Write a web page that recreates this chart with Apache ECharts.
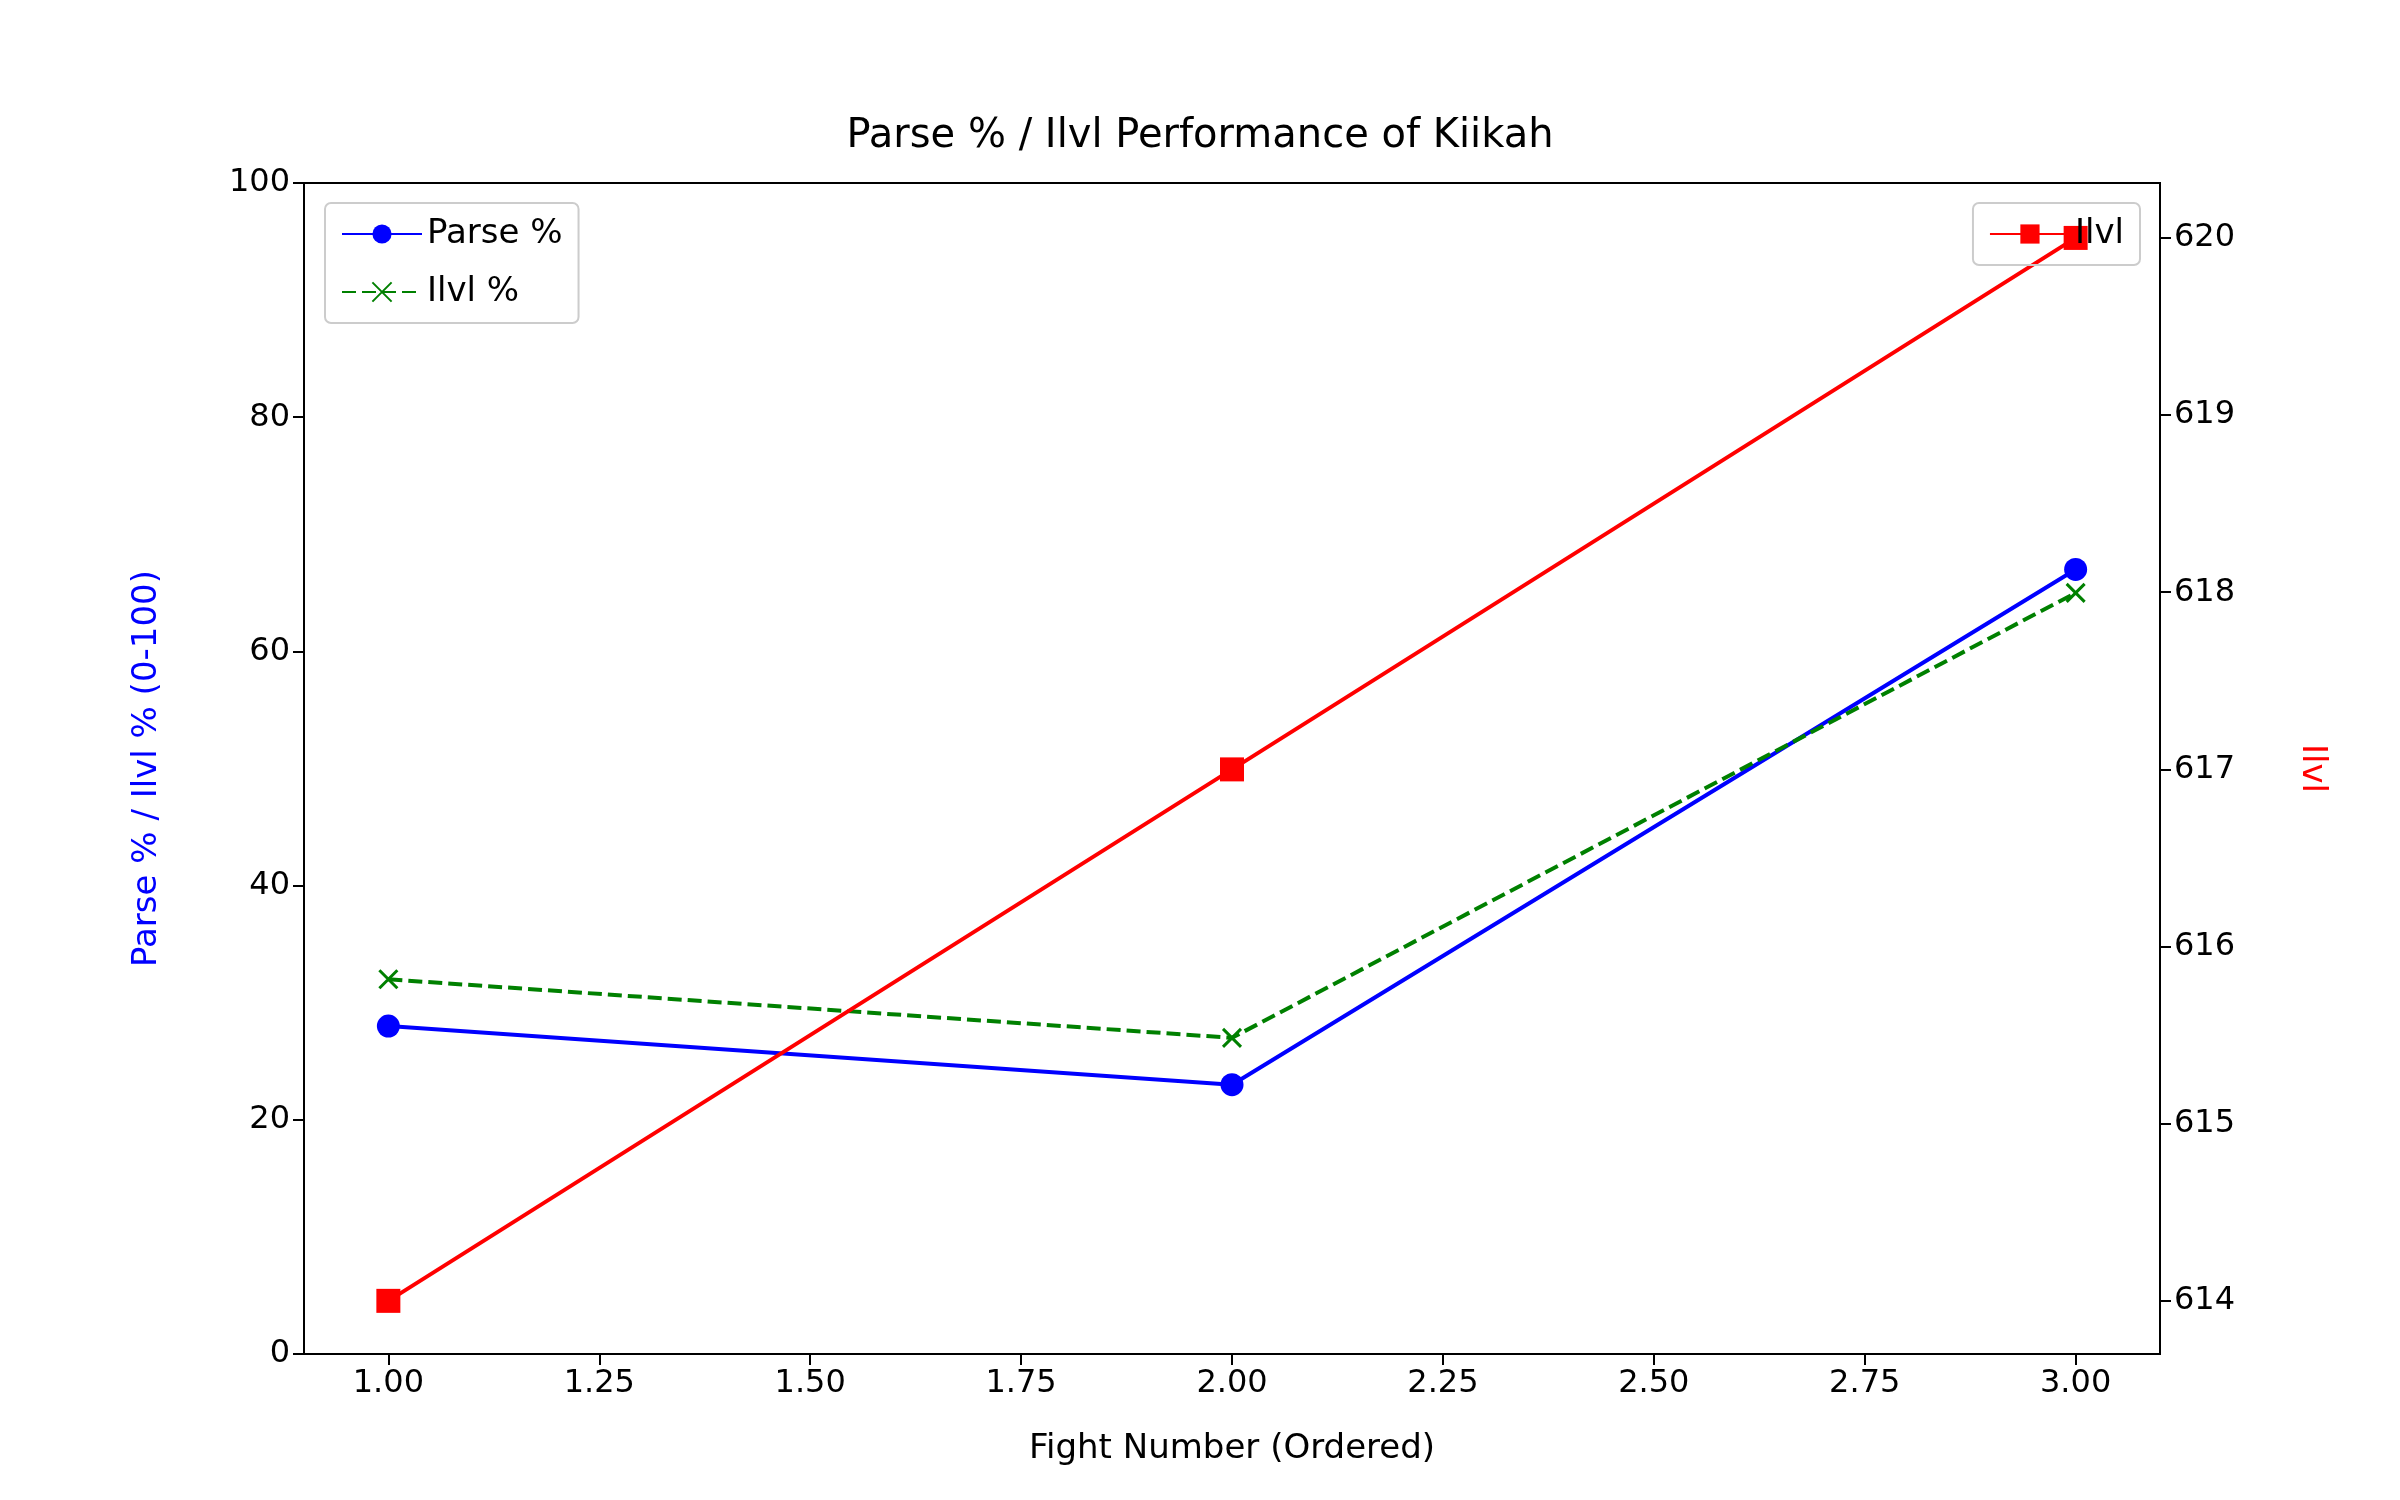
<!DOCTYPE html>
<html><head><meta charset="utf-8">
<script src="https://cdn.jsdelivr.net/npm/echarts@6/dist/echarts.min.js"></script>
<style>html,body{margin:0;padding:0;background:#fff}#c{width:2400px;height:1500px}</style>
</head><body><div id="c"></div>
<script>
var fights = [1, 2, 3];
var parsePct = [28, 23, 67];
var ilvlPct = [32, 27, 65];
var ilvl = [614, 617, 620];
var xTicks = [1, 1.25, 1.5, 1.75, 2, 2.25, 2.5, 2.75, 3];
var rightTicks = [614, 615, 616, 617, 618, 619, 620];

var F = 'DejaVu Sans';
var chart = echarts.init(document.getElementById('c'));
function pts(ys){ return fights.map(function(x,i){ return [x, ys[i]]; }); }
var lab = {color:'#000', fontFamily:F, fontSize:32, margin:14};
var tick = {show:true, length:11, inside:false, lineStyle:{color:'#000', width:2}};
chart.setOption({
  animation:false,
  title:{text:'Parse % / Ilvl Performance of Kiikah', left:'center', top:112,
    textStyle:{fontFamily:F, fontSize:40, fontWeight:'normal', color:'#000'}},
  grid:{left:304, right:240, top:183, bottom:146, show:true, borderColor:'#000', borderWidth:2},
  legend:[
    {data:['Parse %','Ilvl %'], orient:'vertical', left:325, top:203, itemWidth:80, itemHeight:24, itemGap:24,
      padding:[14,16], borderColor:'#ccc', borderWidth:2, borderRadius:6,
      textStyle:{fontFamily:F, fontSize:34, color:'#000'}},
    {data:['Ilvl'], orient:'vertical', right:260, top:203, itemWidth:80, itemHeight:24,
      padding:[14,16], borderColor:'#ccc', borderWidth:2, borderRadius:6,
      textStyle:{fontFamily:F, fontSize:34, color:'#000'}}
  ],
  xAxis:{type:'value', min:0.9, max:3.1, name:'Fight Number (Ordered)', nameLocation:'middle', nameGap:78,
    nameTextStyle:{fontFamily:F, fontSize:34, color:'#000'},
    axisLine:{show:true, lineStyle:{color:'#000', width:2}},
    axisTick:Object.assign({customValues:xTicks}, tick),
    axisLabel:Object.assign({customValues:xTicks, formatter:function(v){return v.toFixed(2);}}, lab),
    splitLine:{show:false}},
  yAxis:[
    {type:'value', min:0, max:100, interval:20, position:'left', name:'Parse % / Ilvl % (0-100)',
      nameLocation:'middle', nameGap:140, nameTextStyle:{fontFamily:F, fontSize:34, color:'#0000ff'},
      axisLine:{show:true, lineStyle:{color:'#000', width:2}}, axisTick:tick, axisLabel:lab, splitLine:{show:false}},
    {type:'value', min:613.7, max:620.31, position:'right', name:'Ilvl',
      nameLocation:'middle', nameGap:135, nameRotate:-90, nameTextStyle:{fontFamily:F, fontSize:34, color:'#ff0000'},
      axisLine:{show:true, lineStyle:{color:'#000', width:2}},
      axisTick:Object.assign({customValues:rightTicks}, tick),
      axisLabel:Object.assign({customValues:rightTicks}, lab), splitLine:{show:false}}
  ],
  series:[
    {name:'Parse %', type:'line', data:pts(parsePct), yAxisIndex:0, symbol:'circle', symbolSize:23,
      lineStyle:{color:'#0000ff', width:4}, itemStyle:{color:'#0000ff'}, color:'#0000ff'},
    {name:'Ilvl %', type:'line', data:pts(ilvlPct), yAxisIndex:0,
      symbol:'path://M0,0L10,10M10,0L0,10', symbolSize:18, z:3,
      lineStyle:{color:'#008000', width:4, type:[14,6]},
      itemStyle:{color:'none', borderColor:'#008000', borderWidth:3}, color:'#008000'},
    {name:'Ilvl', type:'line', data:pts(ilvl), yAxisIndex:1, symbol:'rect', symbolSize:24,
      lineStyle:{color:'#ff0000', width:4}, itemStyle:{color:'#ff0000'}, color:'#ff0000'}
  ]
});
</script></body></html>
